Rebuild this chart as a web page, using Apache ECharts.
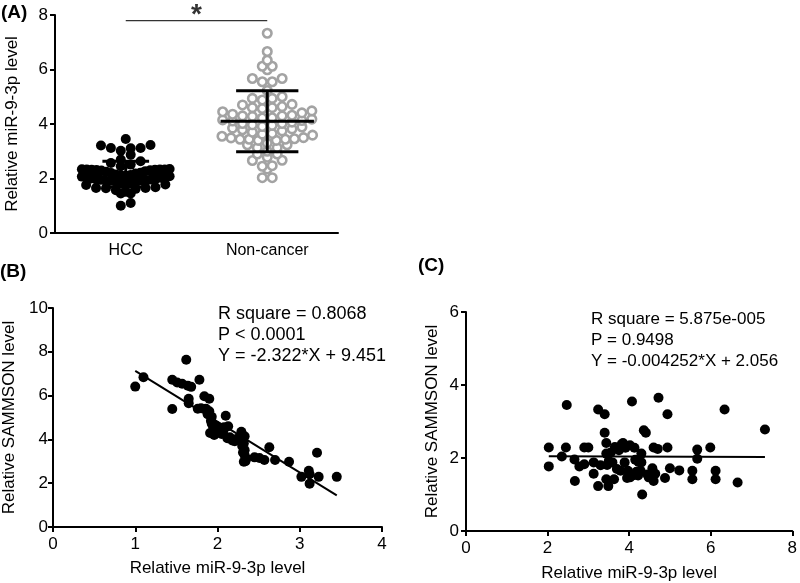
<!DOCTYPE html>
<html><head><meta charset="utf-8">
<script src="https://cdn.jsdelivr.net/npm/echarts@6/dist/echarts.min.js"></script>
<style>html,body{margin:0;padding:0;background:#fff}#c{width:800px;height:583px}</style>
</head><body><div id="c"></div>
<script>
// ---------------- data ----------------
const groupNames = ['HCC', 'Non-cancer'];
// HCC tissue: relative miR-9-3p (x in panel B) and SAMMSON (y in panel B)
const hccMiR = [1.00,1.10,1.45,1.51,1.57,1.64,1.62,1.78,1.45,1.65,1.65,1.76,1.84,1.90,1.86,1.90,1.93,1.93,1.95,1.91,1.96,2.03,2.07,2.10,2.13,2.12,2.04,1.97,2.21,2.27,2.29,2.33,2.32,2.33,2.33,2.32,2.35,2.45,2.51,2.57,2.63,2.70,2.87,3.02,3.11,3.12,3.12,3.21,3.23,3.45,
  1.88,1.92,2.00,2.05,2.15,2.18,2.25,2.30,2.31,2.34,1.80,1.68,1.99,2.08,2.20];
const hccSam = [6.41,6.84,6.72,6.60,6.54,6.45,7.64,6.72,5.39,5.86,5.65,5.40,5.97,5.86,5.40,5.28,5.03,4.72,4.55,4.29,4.20,4.51,4.38,5.08,4.60,4.05,4.45,4.35,3.92,3.97,4.35,4.14,3.82,3.51,3.28,2.98,3.13,3.18,3.15,3.06,3.64,3.06,2.98,2.29,2.57,2.41,1.98,3.39,2.29,2.29,
  5.15,4.85,4.40,4.25,4.10,3.95,4.05,3.70,3.40,3.00,5.42,6.40,4.60,4.55,4.00];
// Non-cancer tissue: relative miR-9-3p (x in panel C) and SAMMSON (y in panel C)
const ncMiR = [2.03,2.03,2.35,2.45,2.47,2.66,2.67,2.78,2.90,2.90,3.00,3.13,3.13,3.24,3.24,3.40,3.40,3.44,3.44,3.46,3.44,3.49,3.59,3.63,3.75,3.85,3.91,3.89,3.79,3.97,3.95,4.07,4.13,4.02,4.22,4.30,4.30,4.28,4.32,4.36,4.41,4.48,4.57,4.60,4.60,4.64,4.72,4.88,4.94,4.94,5.00,5.23,5.55,5.55,5.67,5.67,5.99,6.12,6.12,6.34,6.66,7.33,
  4.11,3.50,4.02,4.18,3.82,4.23,3.70,4.45,3.55,4.15,3.30,4.70,3.65];
const ncSam = [2.29,1.77,2.04,2.29,3.45,1.96,1.37,1.77,1.83,2.29,2.29,1.88,1.57,3.33,1.23,3.20,2.69,2.41,2.12,1.81,1.42,1.23,1.88,1.42,2.21,2.41,2.28,1.88,1.65,1.65,1.45,3.55,2.28,1.47,1.52,2.12,1.88,1.65,1.00,2.76,2.69,1.47,1.72,2.29,1.37,1.57,3.65,1.45,3.20,2.29,1.72,1.66,1.65,1.42,2.23,1.98,2.29,1.65,1.42,3.33,1.33,2.78,
  1.53,1.92,2.35,1.62,2.38,1.89,1.70,1.55,2.15,1.95,1.80,2.25,2.30];
const groupMean = [2.16, 4.10];
const groupSD = [0.47, 1.12];
const fitB = [-2.322, 9.451];
const fitC = [-0.004252, 2.056];
const statsB = ['R square = 0.8068', 'P < 0.0001', 'Y = -2.322*X + 9.451'];
const statsC = ['R square = 5.875e-005', 'P = 0.9498', 'Y = -0.004252*X + 2.056'];
const yTicksA = [0, 8, 2], yTicksB = [0, 10, 2], xTicksB = [0, 4, 1], yTicksC = [0, 6, 2], xTicksC = [0, 8, 2];
const sigLevel = 7.79;

// ---------------- helpers ----------------
const FF = 'Liberation Sans, Arial, Helvetica, sans-serif';
function swarm(values, center, binW, maxHalf, step) {
  const bins = {};
  values.forEach(v => { const k = Math.floor(v / binW); (bins[k] = bins[k] || []).push(v); });
  const out = [];
  Object.keys(bins).forEach(k => {
    const arr = bins[k].slice().sort((a, b) => a - b);
    const n = arr.length;
    const s = n > 1 ? Math.min(step, 2 * maxHalf / (n - 1)) : 0;
    arr.forEach((v, i) => {
      let off;
      if (n % 2 === 1) { const kk = Math.ceil(i / 2); off = (i % 2 === 1 ? -1 : 1) * kk * s; }
      else { const kk = Math.floor(i / 2) + 0.5; off = (i % 2 === 0 ? -1 : 1) * kk * s; }
      out.push([center + off, v]);
    });
  });
  return out;
}
function seg(xi, yi, pts, w, color, z) {
  return { type: 'line', xAxisIndex: xi, yAxisIndex: yi, data: pts, showSymbol: false, symbol: 'none',
    silent: true, animation: false, z: z || 5, lineStyle: { width: w, color: color || '#000' } };
}
function valAxis(gi, t, extra) {
  return Object.assign({
    type: 'value', gridIndex: gi, min: t[0], max: t[1], interval: t[2],
    axisLine: { show: true, onZero: false, lineStyle: { color: '#000', width: 2 } },
    axisTick: { show: true, length: 5, lineStyle: { color: '#000', width: 2 } },
    axisLabel: { color: '#000', fontSize: 17, fontFamily: FF, margin: 7 },
    splitLine: { show: false },
    nameTextStyle: { color: '#000', fontSize: 17, fontFamily: FF },
    nameLocation: 'middle'
  }, extra || {});
}

const series = [];
// Panel A scatter
series.push({ type: 'scatter', xAxisIndex: 1, yAxisIndex: 0, symbol: 'circle', symbolSize: 10,
  itemStyle: { color: '#000', opacity: 1 }, data: swarm(hccMiR, 1, 0.3, 0.62, 0.14), animation: false, z: 3 });
series.push({ type: 'scatter', xAxisIndex: 1, yAxisIndex: 0, symbol: 'circle', symbolSize: 8.5,
  itemStyle: { color: '#fff', borderColor: '#a3a3a3', borderWidth: 2.6, opacity: 1 }, data: swarm(ncMiR, 3, 0.3, 0.64, 0.14), animation: false, z: 3 });
// mean +/- SD
const meanHalf = [0.66, 0.66], capHalf = [0.33, 0.44];
[1, 3].forEach((c, i) => {
  const m = groupMean[i], sd = groupSD[i];
  series.push(seg(1, 0, [[c - meanHalf[i], m], [c + meanHalf[i], m]], 3));
  series.push(seg(1, 0, [[c, m - sd], [c, m + sd]], 3));
  series.push(seg(1, 0, [[c - capHalf[i], m + sd], [c + capHalf[i], m + sd]], 3));
  series.push(seg(1, 0, [[c - capHalf[i], m - sd], [c + capHalf[i], m - sd]], 3));
});
// significance bar and star
series.push(seg(1, 0, [[1, sigLevel], [3, sigLevel]], 1.2, '#333'));
series.push({ type: 'scatter', xAxisIndex: 1, yAxisIndex: 0, symbolSize: 0, data: [[2, sigLevel]], silent: true, animation: false,
  label: { show: true, position: 'top', distance: -9, formatter: '*', fontSize: 28, fontWeight: 'bold', color: '#000', fontFamily: FF } });

// Panel B
series.push({ type: 'scatter', xAxisIndex: 2, yAxisIndex: 1, symbolSize: 10, itemStyle: { color: '#000', opacity: 1 },
  data: hccMiR.map((x, i) => [x, hccSam[i]]), animation: false });
const bx0 = Math.min(...hccMiR), bx1 = Math.max(...hccMiR);
series.push(seg(2, 1, [[bx0, fitB[0] * bx0 + fitB[1]], [bx1, fitB[0] * bx1 + fitB[1]]], 2));
// Panel C
series.push({ type: 'scatter', xAxisIndex: 3, yAxisIndex: 2, symbolSize: 10, itemStyle: { color: '#000', opacity: 1 },
  data: ncMiR.map((x, i) => [x, ncSam[i]]), animation: false });
const cx0 = Math.min(...ncMiR), cx1 = Math.max(...ncMiR);
series.push(seg(3, 2, [[cx0, fitC[0] * cx0 + fitC[1]], [cx1, fitC[0] * cx1 + fitC[1]]], 2));

const option = {
  backgroundColor: '#fff',
  animation: false,
  grid: [
    { left: 55, top: 15, width: 283, height: 218 },
    { left: 53, top: 308, width: 329, height: 219 },
    { left: 466, top: 312, width: 329, height: 219 }
  ],
  xAxis: [
    { type: 'category', gridIndex: 0, data: groupNames, boundaryGap: true,
      axisLine: { lineStyle: { color: '#000', width: 2 } },
      axisTick: { alignWithLabel: true, length: 5, lineStyle: { color: '#000', width: 2 } },
      axisLabel: { color: '#000', fontSize: 16, fontFamily: FF, margin: 10 } },
    { type: 'value', gridIndex: 0, min: 0, max: 4, show: false },
    valAxis(1, xTicksB, { name: 'Relative miR-9-3p level', nameGap: 33, axisLabel: { color: '#000', fontSize: 17, fontFamily: FF, margin: 9 } }),
    valAxis(2, xTicksC, { name: 'Relative miR-9-3p level', nameGap: 34, axisLabel: { color: '#000', fontSize: 17, fontFamily: FF, margin: 9 } })
  ],
  yAxis: [
    valAxis(0, yTicksA, { name: 'Relative miR-9-3p level', nameGap: 34 }),
    valAxis(1, yTicksB, { name: 'Relative SAMMSON level', nameGap: 35, axisLabel: { color: '#000', fontSize: 17, fontFamily: FF, margin: 5 } }),
    valAxis(2, yTicksC, { name: 'Relative SAMMSON level', nameGap: 25, axisLabel: { color: '#000', fontSize: 17, fontFamily: FF, margin: 7 } })
  ],
  graphic: [
    { type: 'text', left: 1, top: 3, style: { text: '(A)', font: 'bold 19px ' + FF, fill: '#000' } },
    { type: 'text', left: 0, top: 262, style: { text: '(B)', font: 'bold 19px ' + FF, fill: '#000' } },
    { type: 'text', left: 418, top: 256, style: { text: '(C)', font: 'bold 19px ' + FF, fill: '#000' } },
    { type: 'text', left: 218, top: 304, style: { text: statsB.join('\n'), font: '18px ' + FF, lineHeight: 21, fill: '#000' } },
    { type: 'text', left: 591, top: 309, style: { text: statsC.join('\n'), font: '17px ' + FF, lineHeight: 21, fill: '#000' } }
  ],
  series: series
};
const chart = echarts.init(document.getElementById('c'), null, { renderer: 'canvas' });
chart.setOption(option);
</script></body></html>
